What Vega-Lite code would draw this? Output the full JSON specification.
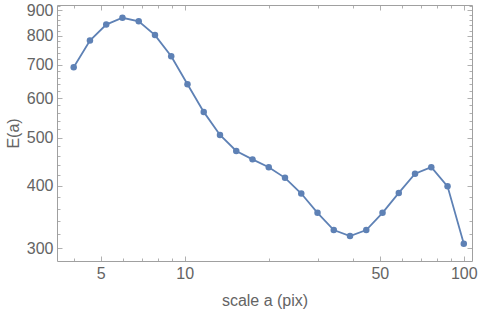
{
  "$schema": "https://vega.github.io/schema/vega-lite/v6.json",
  "width": 415,
  "height": 256,
  "autosize": "none",
  "padding": {"left": 57, "top": 5, "right": 8, "bottom": 49},
  "background": "white",
  "config": {
    "view": {"stroke": null},
    "axis": {
      "grid": false,
      "domainColor": "#a0a0a0",
      "domainWidth": 1,
      "tickColor": "#b0b0b0",
      "labelFont": "Liberation Sans",
      "labelFontSize": 16,
      "labelColor": "#646464",
      "titleFont": "Liberation Sans",
      "titleFontSize": 16,
      "titleFontWeight": "normal",
      "titleColor": "#646464",
      "labelOverlap": false
    }
  },
  "data": {
    "values": [
      {"a": 4.0, "E": 692},
      {"a": 4.574, "E": 783},
      {"a": 5.231, "E": 843},
      {"a": 5.981, "E": 870},
      {"a": 6.84, "E": 856},
      {"a": 7.822, "E": 803},
      {"a": 8.944, "E": 728},
      {"a": 10.228, "E": 640},
      {"a": 11.696, "E": 563},
      {"a": 13.375, "E": 506},
      {"a": 15.295, "E": 470},
      {"a": 17.49, "E": 452},
      {"a": 20.0, "E": 436},
      {"a": 22.871, "E": 415},
      {"a": 26.153, "E": 386},
      {"a": 29.907, "E": 353},
      {"a": 34.2, "E": 326},
      {"a": 39.109, "E": 317},
      {"a": 44.72, "E": 326},
      {"a": 51.14, "E": 353},
      {"a": 58.48, "E": 387},
      {"a": 66.87, "E": 423},
      {"a": 76.47, "E": 436},
      {"a": 87.45, "E": 399},
      {"a": 100.0, "E": 306}
    ]
  },
  "resolve": {"axis": {"x": "independent", "y": "independent"}},
  "layer": [
    {
      "mark": {"type": "line", "color": "#5E81B5", "strokeWidth": 1.8},
      "encoding": {
        "x": {
          "field": "a", "type": "quantitative",
          "scale": {"type": "log", "domain": [3.485, 107], "nice": false, "zero": false},
          "axis": {
            "orient": "bottom",
            "title": "scale a (pix)",
            "titlePadding": 9,
            "values": [4, 5, 6, 7, 8, 9, 10, 20, 30, 40, 50, 60, 70, 80, 90, 100],
            "labelExpr": "indexof([5,10,50,100], datum.value) >= 0 ? datum.label : ''",
            "tickSize": {"condition": {"test": "indexof([5,10,50,100], datum.value) >= 0", "value": -5}, "value": -3},
            "labelPadding": 9,
            "format": "~g"
          }
        },
        "y": {
          "field": "E", "type": "quantitative",
          "scale": {"type": "log", "domain": [282.5, 923], "nice": false, "zero": false},
          "axis": {
            "orient": "left",
            "title": "E(a)",
            "titlePadding": 5,
            "values": [300, 320, 340, 360, 380, 400, 420, 440, 460, 480, 500, 520, 540, 560, 580, 600, 620, 640, 660, 680, 700, 720, 740, 760, 780, 800, 820, 840, 860, 880, 900, 920],
            "labelExpr": "datum.value % 100 == 0 ? datum.label : ''",
            "tickSize": {"condition": {"test": "datum.value % 100 == 0", "value": -5}, "value": -3},
            "labelPadding": 9,
            "format": "d"
          }
        }
      }
    },
    {
      "mark": {"type": "point", "filled": true, "color": "#5E81B5", "size": 42, "opacity": 1},
      "encoding": {
        "x": {
          "field": "a", "type": "quantitative",
          "axis": {
            "orient": "top",
            "title": null,
            "labels": false,
            "values": [4, 5, 6, 7, 8, 9, 10, 20, 30, 40, 50, 60, 70, 80, 90, 100],
            "tickSize": {"condition": {"test": "indexof([5,10,50,100], datum.value) >= 0", "value": -5}, "value": -3}
          }
        },
        "y": {
          "field": "E", "type": "quantitative",
          "axis": {
            "orient": "right",
            "title": null,
            "labels": false,
            "values": [300, 320, 340, 360, 380, 400, 420, 440, 460, 480, 500, 520, 540, 560, 580, 600, 620, 640, 660, 680, 700, 720, 740, 760, 780, 800, 820, 840, 860, 880, 900, 920],
            "tickSize": {"condition": {"test": "datum.value % 100 == 0", "value": -5}, "value": -3}
          }
        }
      }
    }
  ]
}
